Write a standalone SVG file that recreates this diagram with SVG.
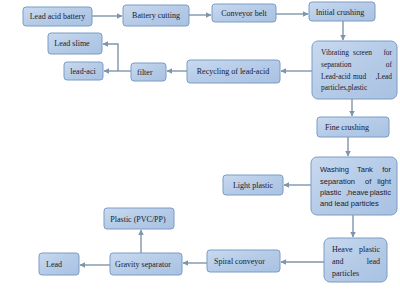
<svg xmlns="http://www.w3.org/2000/svg" width="400" height="297" viewBox="0 0 400 297">
<defs>
<linearGradient id="g" x1="0" y1="0" x2="1" y2="1">
<stop offset="0" stop-color="#c9daf0"/>
<stop offset="0.5" stop-color="#b5cbe7"/>
<stop offset="1" stop-color="#a9c2e2"/>
</linearGradient>
<marker id="a" viewBox="0 0 10 10" refX="9" refY="5" markerWidth="4" markerHeight="4" orient="auto">
<path d="M0,0 L10,5 L0,10 z" fill="#7f95ab"/>
</marker>
<style>
.n rect{fill:url(#g);stroke:#7b9cc4;stroke-width:1}
.n text{font-family:"Liberation Serif","Times New Roman",serif;font-size:8px;fill:#1a1a2e}
.n text.v{font-size:7.4px}
.n text.s{font-family:"Liberation Sans",Arial,sans-serif;font-size:7.5px}
.c path{fill:none;stroke:#7f95ab;stroke-width:1.4;marker-end:url(#a)}
</style>
</defs>
<rect width="400" height="297" fill="#ffffff"/>
<g class="c">
<path d="M92,16 H122"/>
<path d="M189,15 H211"/>
<path d="M276,14 H308"/>
<path d="M343,21 V40"/>
<path d="M312,71 H281"/>
<path d="M187,71 H167"/>
<path d="M131,71 H104"/>
<path d="M118,71 V44 H103"/>
<path d="M352,99 V116"/>
<path d="M348,137 V156"/>
<path d="M311,185 H284"/>
<path d="M353,215 V237"/>
<path d="M324,262 H281"/>
<path d="M207,263 H183"/>
<path d="M141,253 V230"/>
<path d="M110,265 H80"/>
</g>
<g class="n" id="lead-acid-battery"><rect x="23" y="7" width="69" height="19" rx="3"/><text x="57.5" y="19" text-anchor="middle">Lead acid battery</text></g>
<g class="n" id="battery-cutting"><rect x="123" y="5" width="66" height="21" rx="3"/><text x="156" y="18" text-anchor="middle">Battery cutting</text></g>
<g class="n" id="conveyor-belt"><rect x="212" y="4" width="64" height="18" rx="3"/><text x="244" y="16" text-anchor="middle">Conveyor belt</text></g>
<g class="n" id="initial-crushing"><rect x="309" y="2" width="66" height="19" rx="3"/><text x="340" y="15" text-anchor="middle">Initial crushing</text></g>
<g class="n" id="vibrating-screen"><rect x="312" y="41" width="85" height="58" rx="6"/>
<text class="v" x="321" y="55">Vibrating</text><text class="v" x="353" y="55">screen</text><text class="v" x="392" y="55" text-anchor="end">for</text>
<text class="v" x="321" y="67">separation</text><text class="v" x="392" y="67" text-anchor="end">of</text>
<text class="v" x="321" y="79">Lead-acid</text><text class="v" x="353" y="79">mud</text><text class="v" x="392" y="79" text-anchor="end">,Lead</text>
<text class="v" x="321" y="90">particles,plastic</text></g>
<g class="n" id="recycling"><rect x="187" y="60" width="93" height="23" rx="3"/><text x="233" y="74" text-anchor="middle">Recycling of lead-acid</text></g>
<g class="n" id="filter"><rect x="131" y="63" width="35" height="18" rx="3"/><text x="137" y="75">filter</text></g>
<g class="n" id="lead-aci"><rect x="64" y="62" width="39" height="18" rx="3"/><text x="83" y="74" text-anchor="middle">lead-aci</text></g>
<g class="n" id="lead-slime"><rect x="48" y="33" width="54" height="21" rx="3"/><text x="72" y="46" text-anchor="middle">Lead slime</text></g>
<g class="n" id="fine-crushing"><rect x="317" y="117" width="72" height="20" rx="3"/><text x="347" y="130" text-anchor="middle">Fine crushing</text></g>
<g class="n" id="washing-tank"><rect x="311" y="157" width="86" height="58" rx="6"/>
<text class="s" x="320" y="172">Washing</text><text class="s" x="357" y="172">Tank</text><text class="s" x="391" y="172" text-anchor="end">for</text>
<text class="s" x="320" y="184">separation</text><text class="s" x="365" y="184">of</text><text class="s" x="391" y="184" text-anchor="end">light</text>
<text class="s" x="320" y="195">plastic</text><text class="s" x="346" y="195">,heave</text><text class="s" x="391" y="195" text-anchor="end">plastic</text>
<text class="s" x="320" y="206">and lead particles</text></g>
<g class="n" id="light-plastic"><rect x="223" y="175" width="60" height="20" rx="3"/><text x="253" y="188" text-anchor="middle">Light plastic</text></g>
<g class="n" id="heave-plastic"><rect x="324" y="238" width="63" height="44" rx="6"/>
<text x="332" y="252">Heave</text><text x="380" y="252" text-anchor="end">plastic</text>
<text x="332" y="264">and</text><text x="380" y="264" text-anchor="end">lead</text>
<text x="332" y="276">particles</text></g>
<g class="n" id="spiral-conveyor"><rect x="207" y="250" width="73" height="22" rx="3"/><text x="214" y="264">Spiral conveyor</text></g>
<g class="n" id="gravity-separator"><rect x="110" y="253" width="72" height="22" rx="3"/><text x="143" y="267" text-anchor="middle">Gravity separator</text></g>
<g class="n" id="plastic-pvc"><rect x="104" y="208" width="70" height="21" rx="3"/><text x="138" y="222" text-anchor="middle">Plastic (PVC/PP)</text></g>
<g class="n" id="lead"><rect x="39" y="253" width="40" height="22" rx="3"/><text x="46" y="267">Lead</text></g>
</svg>
